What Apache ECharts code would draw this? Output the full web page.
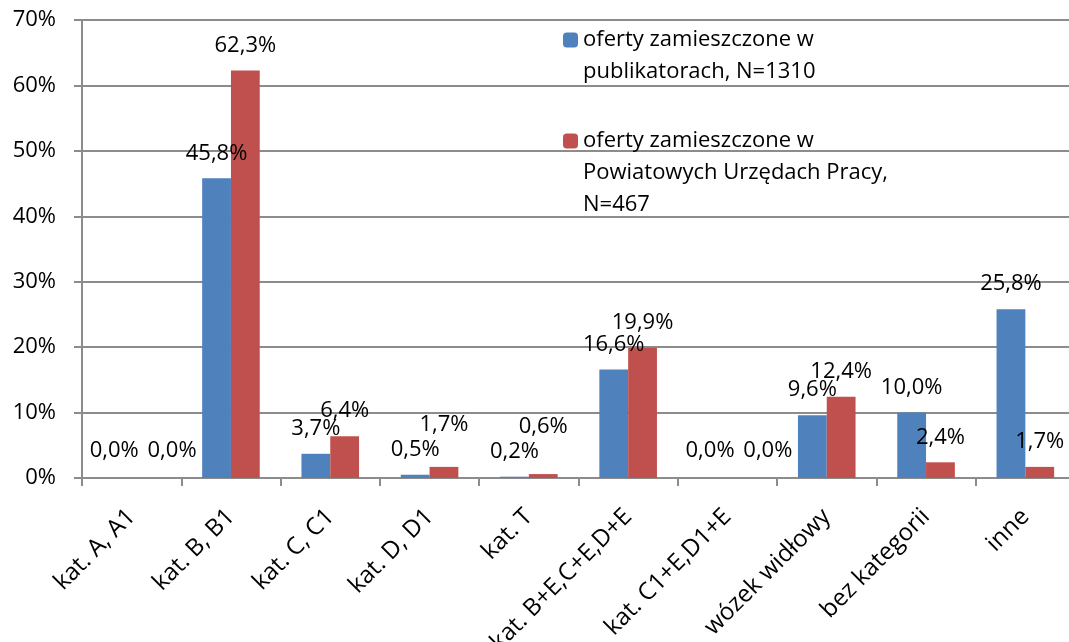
<!DOCTYPE html>
<html>
<head>
<meta charset="utf-8">
<script src="https://cdn.jsdelivr.net/npm/echarts@6/dist/echarts.min.js"></script>
<style>
  html, body { margin: 0; padding: 0; background: #fff; }
  #chart { width: 1069px; height: 642px; }
</style>
</head>
<body>
<div id="chart"></div>
<script>
  var categories = ['kat. A, A1', 'kat. B, B1', 'kat. C, C1', 'kat. D, D1', 'kat. T',
    'kat. B+E,C+E,D+E', 'kat. C1+E,D1+E', 'wózek widłowy', 'bez kategorii', 'inne'];
  var publikatory = [0.0, 45.8, 3.7, 0.5, 0.2, 16.6, 0.0, 9.6, 10.0, 25.8];
  var urzedy = [0.0, 62.3, 6.4, 1.7, 0.6, 19.9, 0.0, 12.4, 2.4, 1.7];
  var names = ['oferty zamieszczone w\npublikatorach, N=1310',
    'oferty zamieszczone w\nPowiatowych Urzędach Pracy,\nN=467'];
  var yTicks = [0, 10, 20, 30, 40, 50, 60, 70];

  var font = '"Open Sans", sans-serif';
  var gridColor = '#8c8c8c';
  var allValues = [publikatory, urzedy];

  var myChart = echarts.init(document.getElementById('chart'));

  function fmt(p) {
    return p.value.toFixed(1).replace('.', ',') + '%';
  }

  // empty lines on top so the icon sits next to the first line
  function legendText(name) {
    var n = name.split('\n').length;
    return new Array(n).join('\n') + name;
  }

  var labelStyle = {
    show: true,
    position: 'top',
    distance: 14,
    color: '#000',
    fontSize: 22,
    fontFamily: font,
    formatter: fmt
  };

  var legendBase = {
    orient: 'vertical',
    left: 563,
    padding: 0,
    itemWidth: 15,
    itemHeight: 15,
    itemGap: 0,
    formatter: legendText,
    textStyle: { fontSize: 22, color: '#000', lineHeight: 32, fontFamily: font }
  };

  var option = {
    animation: false,
    color: ['#4F81BD', '#C0504D'],
    textStyle: { fontFamily: font },
    grid: { left: 82, right: -6, top: 20, bottom: 164, outerBoundsMode: 'none' },
    legend: [
      Object.assign({}, legendBase, { top: -8, data: [names[0]] }),
      Object.assign({}, legendBase, { top: 61, data: [names[1]] })
    ],
    xAxis: {
      type: 'category',
      data: categories,
      axisLine: { lineStyle: { color: gridColor, width: 2 } },
      axisTick: { show: true, length: 8, lineStyle: { color: gridColor, width: 2 } },
      axisLabel: {
        interval: 0,
        rotate: 45,
        margin: 35,
        color: '#000',
        fontSize: 24,
        fontFamily: font
      }
    },
    yAxis: {
      type: 'value',
      min: 0,
      max: 70,
      interval: 10,
      axisLine: { show: true, lineStyle: { color: gridColor, width: 2 } },
      axisTick: { show: true, length: 8, lineStyle: { color: gridColor, width: 2 } },
      axisLabel: {
        margin: 26,
        color: '#000',
        fontSize: 22,
        fontFamily: font,
        customValues: yTicks,
        formatter: function (v) { return v + '%'; }
      },
      splitLine: { lineStyle: { color: gridColor, width: 2 } }
    },
    // labels moved apart the way Excel did it
    labelLayout: function (params) {
      var s = params.seriesIndex, i = params.dataIndex;
      var v = allValues[s][i];
      if (v === 0) {
        return { dx: s === 0 ? -3 : 26, dy: -2 };
      }
      var b = publikatory[i];
      if (s === 1 && v < 2 && b > 0 && b < 2) {
        var k = params.rect.height / v;
        return { dy: (v - b) * k - 25 };
      }
      return {};
    },
    series: [{
      name: names[0],
      type: 'bar',
      data: publikatory,
      barGap: '0%',
      barCategoryGap: '42%',
      label: labelStyle
    }, {
      name: names[1],
      type: 'bar',
      data: urzedy,
      barGap: '0%',
      barCategoryGap: '42%',
      label: labelStyle
    }]
  };

  myChart.setOption(option);
</script>
</body>
</html>
